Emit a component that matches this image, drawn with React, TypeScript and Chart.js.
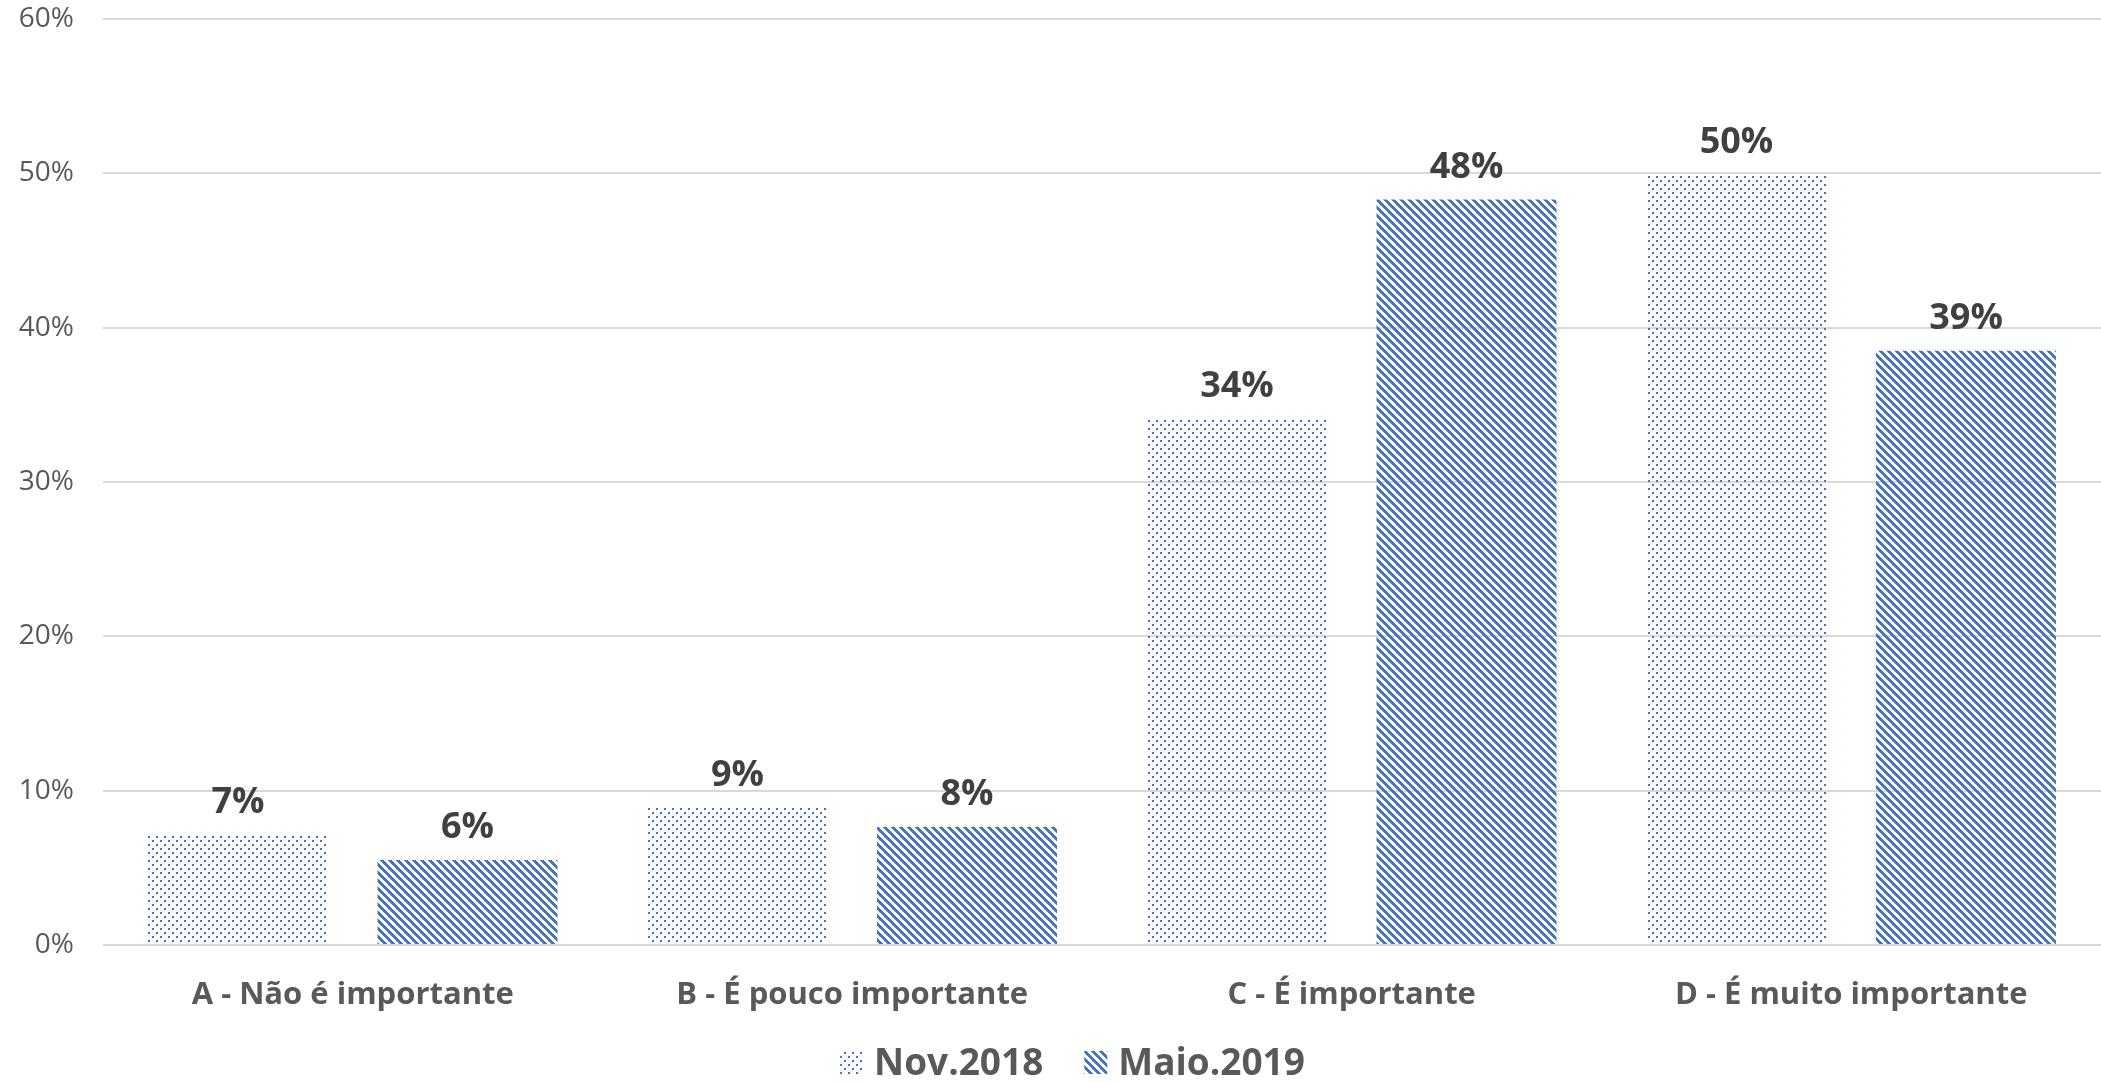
import React, { useEffect, useRef } from "react";
import { Chart, registerables } from "chart.js";

Chart.register(...registerables);

const categories = [
  "A - Não é importante",
  "B - É pouco importante",
  "C - É importante",
  "D - É muito importante",
];
const seriesNames = ["Nov.2018", "Maio.2019"];
const nov2018 = [7.1, 8.9, 34.1, 49.9];
const maio2019 = [5.5, 7.65, 48.3, 38.5];
const yTicks = [0, 10, 20, 30, 40, 50, 60];

const BLUE = "#4472C4";
const FONT = "'Open Sans', 'DejaVu Sans', sans-serif";

function makeDots(): CanvasPattern | string {
  const c = document.createElement("canvas");
  c.width = 8;
  c.height = 8;
  const g = c.getContext("2d");
  if (!g) return BLUE;
  g.fillStyle = BLUE;
  g.fillRect(0, 0, 2, 2);
  g.fillRect(4, 4, 2, 2);
  return g.createPattern(c, "repeat") || BLUE;
}

function makeHatch(): CanvasPattern | string {
  const c = document.createElement("canvas");
  c.width = 8;
  c.height = 8;
  const g = c.getContext("2d");
  if (!g) return BLUE;
  g.fillStyle = BLUE;
  for (let r = 0; r < 8; r++) {
    for (let k = 0; k < 4; k++) {
      g.fillRect((r + k) % 8, r, 1, 1);
    }
  }
  return g.createPattern(c, "repeat") || BLUE;
}

const dataLabelPlugin = {
  id: "dataLabels",
  afterDatasetsDraw(chart: any) {
    const ctx = chart.ctx;
    ctx.save();
    ctx.font = `bold 36px ${FONT}`;
    ctx.fillStyle = "#404040";
    ctx.textAlign = "center";
    ctx.textBaseline = "alphabetic";
    chart.data.datasets.forEach((ds: any, di: number) => {
      const meta = chart.getDatasetMeta(di);
      meta.data.forEach((el: any, i: number) => {
        const v = ds.data[i];
        ctx.fillText(`${Math.round(v)}%`, el.x, el.y - 22);
      });
    });
    ctx.restore();
  },
};

const customLegendPlugin = {
  id: "customLegend",
  afterDraw(chart: any) {
    const ctx = chart.ctx;
    ctx.save();
    ctx.font = `bold 37px ${FONT}`;
    const box = 23;
    const gapText = 11;
    const gapItem = 41;
    const items = chart.data.datasets.map((ds: any) => ({
      label: ds.label,
      fill: ds.backgroundColor,
      w: ctx.measureText(ds.label).width,
    }));
    let total = 0;
    items.forEach((it: any, i: number) => {
      total += box + gapText + it.w + (i < items.length - 1 ? gapItem : 0);
    });
    let x = chart.width / 2 + 22 - total / 2;
    const baseline = 1075;
    items.forEach((it: any) => {
      ctx.fillStyle = it.fill;
      ctx.fillRect(x, baseline - 24, box, box);
      x += box + gapText;
      ctx.fillStyle = "#595959";
      ctx.textAlign = "left";
      ctx.textBaseline = "alphabetic";
      ctx.fillText(it.label, x, baseline);
      x += it.w + gapItem;
    });
    ctx.restore();
  },
};

export default function App() {
  const ref = useRef<HTMLCanvasElement>(null);

  useEffect(() => {
    document.body.style.margin = "0";
    const canvas = ref.current;
    if (!canvas) return;
    const chart = new Chart(canvas, {
      type: "bar",
      data: {
        labels: categories,
        datasets: [
          {
            label: seriesNames[0],
            data: nov2018,
            backgroundColor: makeDots() as any,
            borderWidth: 0,
            categoryPercentage: 0.919,
            barPercentage: 0.784,
          },
          {
            label: seriesNames[1],
            data: maio2019,
            backgroundColor: makeHatch() as any,
            borderWidth: 0,
            categoryPercentage: 0.919,
            barPercentage: 0.784,
          },
        ],
      },
      options: {
        responsive: false,
        animation: false,
        devicePixelRatio: 1,
        layout: { padding: { top: 19, right: 0, bottom: 0, left: 0 } },
        plugins: {
          legend: { display: false },
          tooltip: { enabled: false },
          title: { display: false },
        },
        scales: {
          x: {
            grid: { display: false },
            border: { display: false },
            ticks: {
              font: { family: FONT, size: 31, weight: "bold" },
              color: "#595959",
              padding: 24,
              maxRotation: 0,
              autoSkip: false,
            },
            afterFit: (s: any) => {
              s.height = 138;
              s.paddingLeft = 0;
              s.paddingRight = 0;
            },
          },
          y: {
            min: 0,
            max: 60,
            border: { display: false },
            grid: { color: "#d9d9d9", lineWidth: 2, drawTicks: false },
            afterBuildTicks: (s: any) => {
              s.ticks = yTicks.map((v) => ({ value: v }));
            },
            ticks: {
              font: { family: FONT, size: 28 },
              color: "#595959",
              padding: 29,
              callback: (v: any) => `${v}%`,
            },
            afterFit: (s: any) => {
              s.width = 103;
              s.paddingTop = 0;
              s.paddingBottom = 0;
            },
          },
        },
      },
      plugins: [dataLabelPlugin, customLegendPlugin],
    });
    return () => chart.destroy();
  }, []);

  return (
    <div style={{ width: 2101, height: 1083, background: "#fff" }}>
      <canvas ref={ref} width={2101} height={1083} style={{ display: "block", width: 2101, height: 1083 }} />
    </div>
  );
}
